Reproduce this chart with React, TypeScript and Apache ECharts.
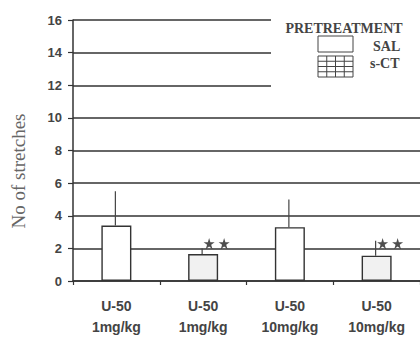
import React, { useEffect, useRef } from "react";
import * as echarts from "echarts";

const categories = ["U-50\n1mg/kg", "U-50\n1mg/kg", "U-50\n10mg/kg", "U-50\n10mg/kg"];
const pretreatment = ["SAL", "s-CT", "SAL", "s-CT"];
const means = [3.4, 1.65, 3.3, 1.55];
const errorTops = [5.5, 2.0, 5.0, 2.47];
const significant = [false, true, false, true];
const starLevel = 2.3;
const yTicks = [0, 16, 2];

const STAR = "path://M50,0 L61,35 L98,35 L68,57 L79,91 L50,70 L21,91 L32,57 L2,35 L39,35 Z";

export default function App() {
  const ref = useRef<HTMLDivElement>(null);
  useEffect(() => {
    if (!ref.current) return;
    const chart = echarts.init(ref.current, null, { renderer: "svg" });
    const starData: any[] = [];
    significant.forEach((s, i) => {
      if (s) starData.push([i, starLevel]);
    });
    const bx = 318, by = 56, bw = 35, bh = 21;
    const legendLines: any[] = [];
    for (let c = 1; c < 4; c++) {
      legendLines.push({ type: "line", z: 12, shape: { x1: bx + (c * bw) / 4, y1: by, x2: bx + (c * bw) / 4, y2: by + bh }, style: { stroke: "#444", lineWidth: 1 } });
    }
    for (let r = 1; r < 4; r++) {
      legendLines.push({ type: "line", z: 12, shape: { x1: bx, y1: by + (r * bh) / 4, x2: bx + bw, y2: by + (r * bh) / 4 }, style: { stroke: "#444", lineWidth: 1 } });
    }
    const serif = "'Liberation Serif', 'Times New Roman', serif";
    chart.setOption({
      animation: false,
      backgroundColor: "#fff",
      grid: { left: 73, right: 0, top: 20, bottom: 51 },
      xAxis: {
        type: "category",
        data: categories,
        axisLine: { lineStyle: { color: "#333", width: 1.5 } },
        axisTick: { show: true, length: 4, lineStyle: { color: "#333", width: 1.2 } },
        axisLabel: {
          color: "#444",
          fontFamily: "Liberation Sans, Arial, sans-serif",
          fontWeight: "bold",
          fontSize: 14,
          lineHeight: 21,
          margin: 14,
        },
      },
      yAxis: {
        type: "value",
        min: yTicks[0],
        max: yTicks[1],
        interval: yTicks[2],
        axisLine: { show: true, lineStyle: { color: "#333", width: 1.5 } },
        axisTick: { show: true, length: 5, lineStyle: { color: "#333", width: 1.2 } },
        axisLabel: {
          color: "#444",
          fontFamily: "Liberation Sans, Arial, sans-serif",
          fontWeight: "bold",
          fontSize: 13,
          margin: 11,
        },
        splitLine: { show: true, lineStyle: { color: "#333", width: 1.5 } },
      },
      series: [
        {
          type: "bar",
          barWidth: 30,
          data: means.map((v, i) => ({
            value: v,
            itemStyle: {
              color: pretreatment[i] === "SAL" ? "#fff" : "#f1f1f1",
              borderColor: "#333",
              borderWidth: 1.4,
            },
          })),
          z: 3,
        },
        {
          type: "custom",
          z: 4,
          data: means.map((v, i) => [i, v, errorTops[i]]),
          renderItem: (params: any, api: any) => {
            const p0 = api.coord([api.value(0), api.value(1)]);
            const p1 = api.coord([api.value(0), api.value(2)]);
            return {
              type: "line",
              shape: { x1: p0[0] - 1, y1: p0[1], x2: p1[0] - 1, y2: p1[1] },
              style: { stroke: "#444", lineWidth: 1.2 },
            };
          },
        },
        {
          type: "scatter",
          z: 5,
          symbol: STAR,
          symbolSize: 11,
          symbolOffset: [6, 0],
          itemStyle: { color: "#222" },
          data: starData,
        },
        {
          type: "scatter",
          z: 5,
          symbol: STAR,
          symbolSize: 11,
          symbolOffset: [21, 0],
          itemStyle: { color: "#222" },
          data: starData,
        },
      ],
      graphic: [
        { type: "rect", shape: { x: 271, y: 12, width: 149, height: 100 }, style: { fill: "#fff" }, z: 10 },
        {
          type: "text",
          x: 18,
          y: 171,
          rotation: Math.PI / 2,
          style: {
            text: "No of stretches",
            fill: "#666",
            font: "19px " + serif,
            align: "center",
            verticalAlign: "middle",
          },
        },
        {
          type: "text",
          x: 344,
          y: 28,
          z: 11,
          style: {
            text: "PRETREATMENT",
            fill: "#444",
            font: "bold 14px " + serif,
            align: "center",
            verticalAlign: "middle",
          },
        },
        { type: "rect", z: 11, shape: { x: 318, y: 36, width: 35, height: 16 }, style: { fill: "#fff", stroke: "#444", lineWidth: 1 } },
        { type: "rect", z: 11, shape: { x: bx, y: by, width: bw, height: bh }, style: { fill: "#fff", stroke: "#444", lineWidth: 1 } },
        ...legendLines,
        {
          type: "text",
          x: 373,
          y: 46,
          z: 11,
          style: { text: "SAL", fill: "#444", font: "bold 14px " + serif, verticalAlign: "middle" },
        },
        {
          type: "text",
          x: 370,
          y: 63,
          z: 11,
          style: { text: "s-CT", fill: "#444", font: "bold 14px " + serif, verticalAlign: "middle" },
        },
      ],
    });
    return () => chart.dispose();
  }, []);
  return <div ref={ref} style={{ position: "fixed", left: 0, top: 0, width: 420, height: 337 }} />;
}
